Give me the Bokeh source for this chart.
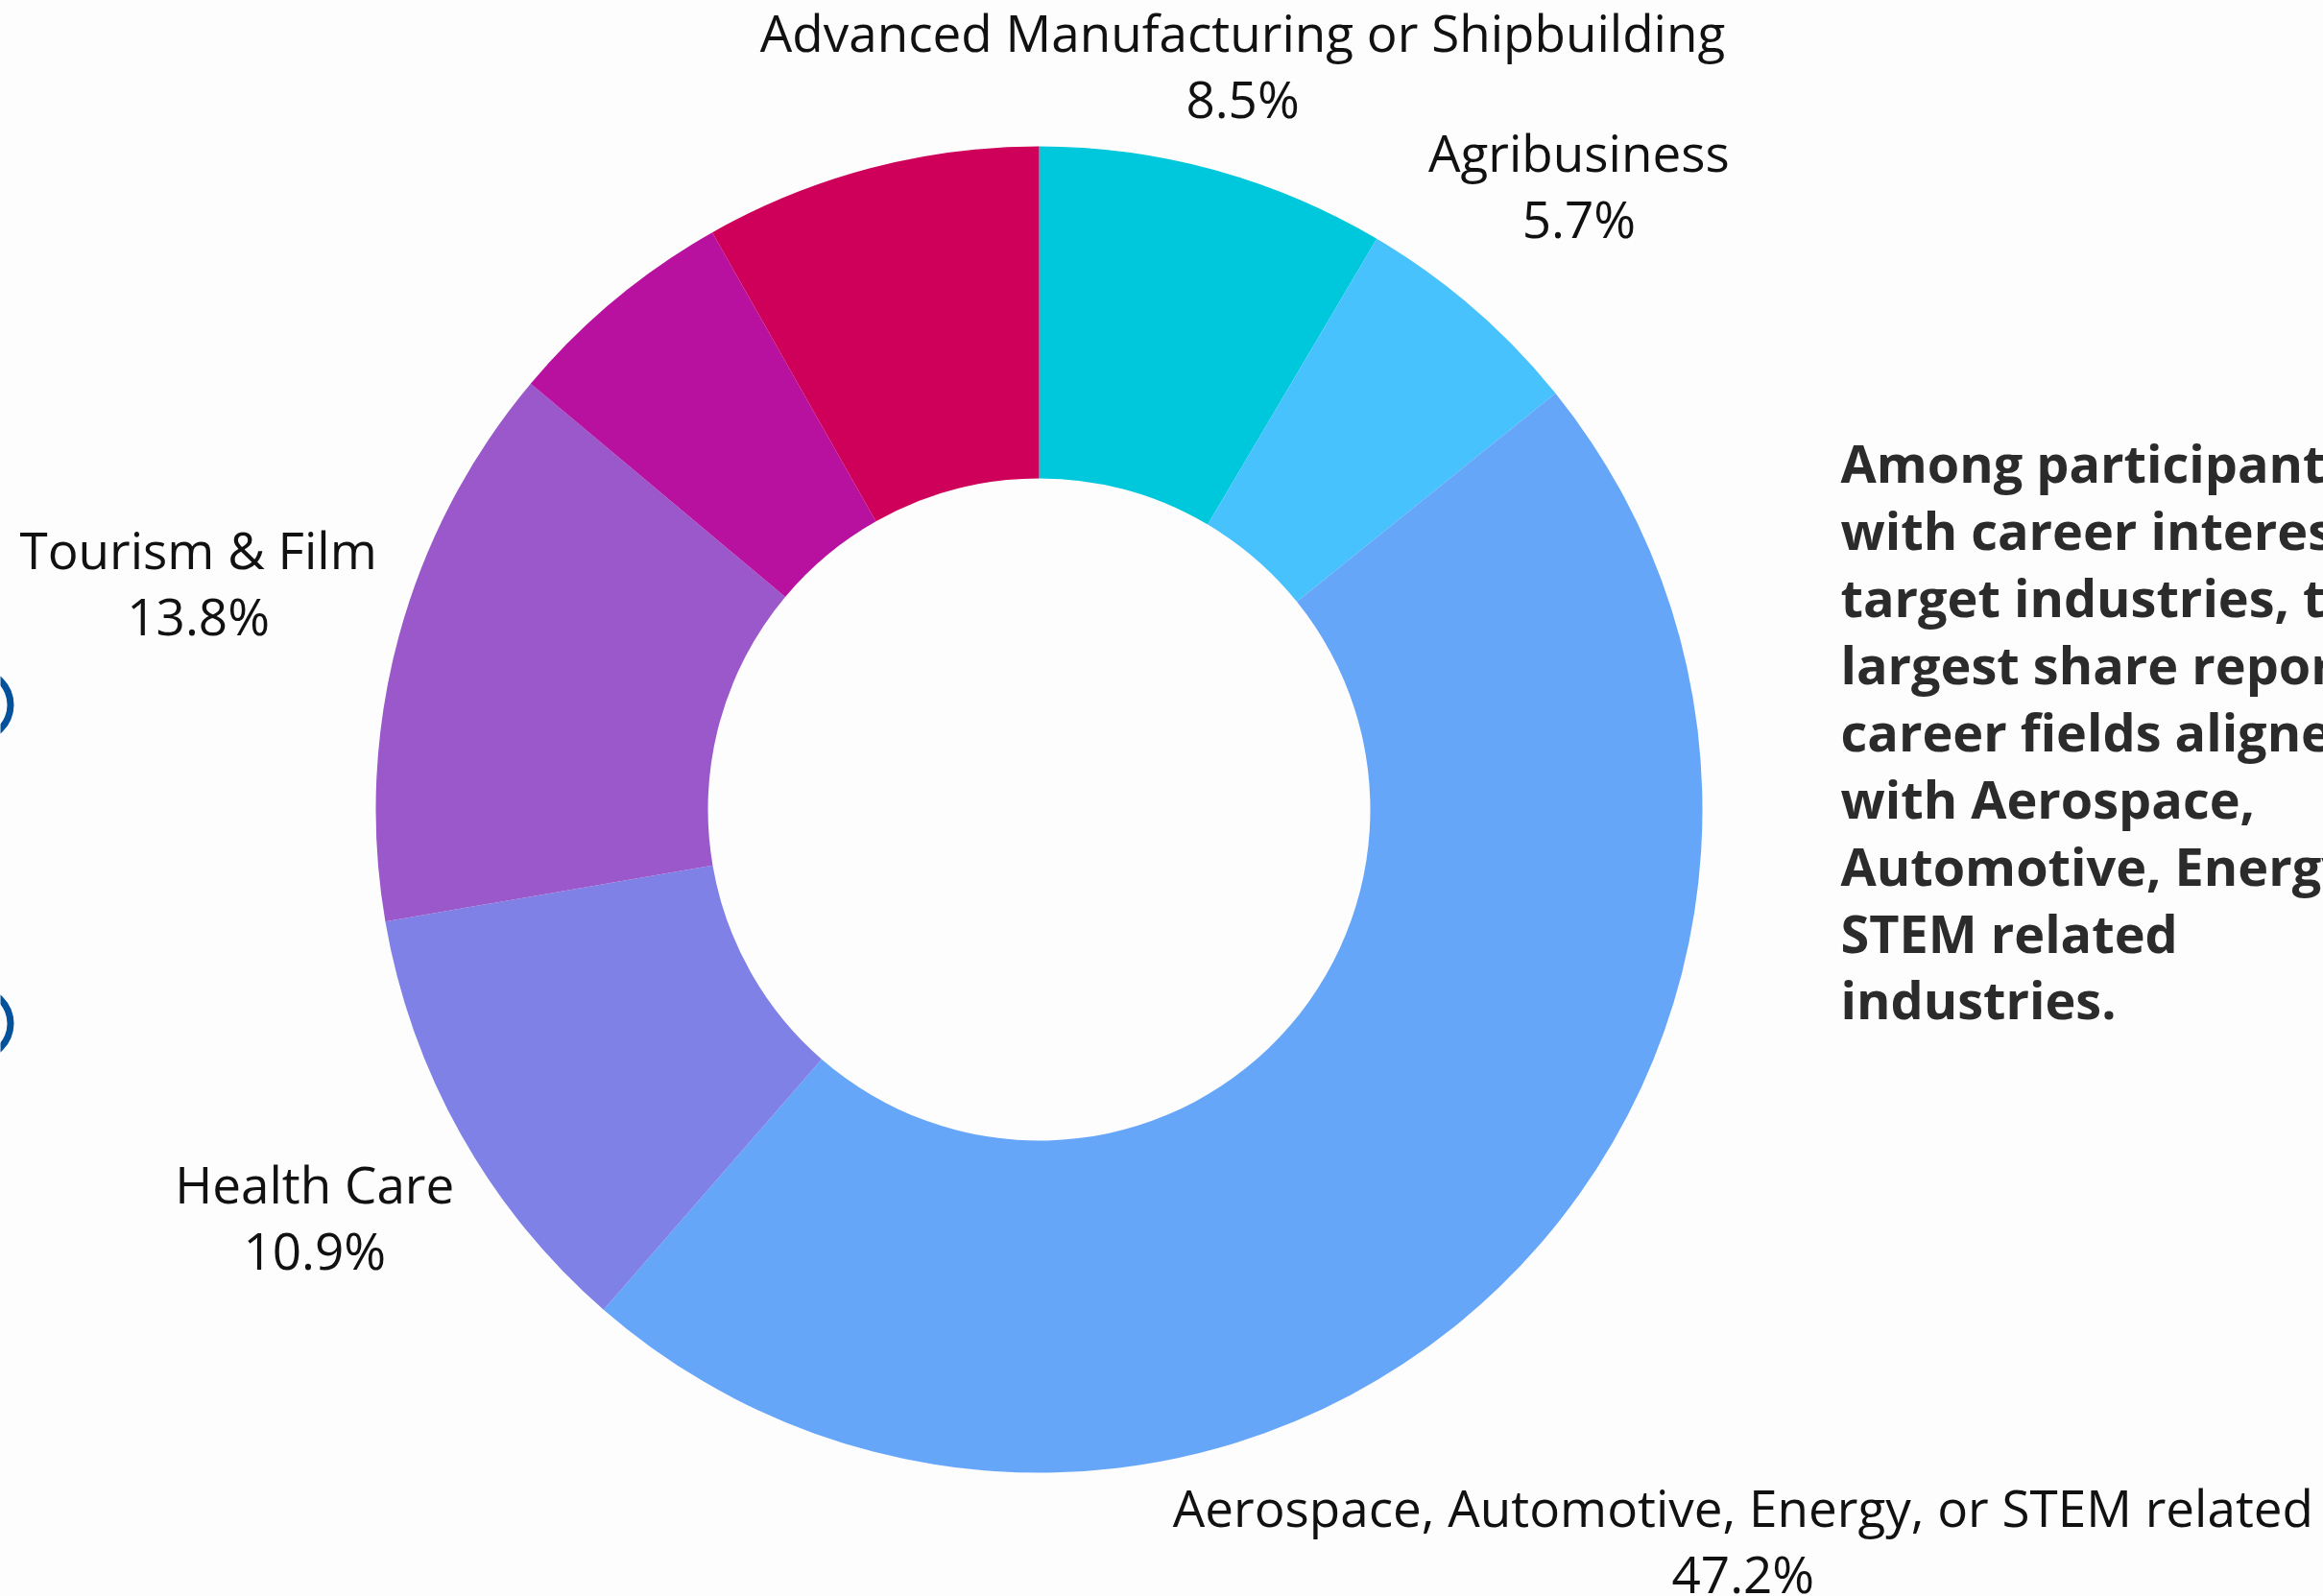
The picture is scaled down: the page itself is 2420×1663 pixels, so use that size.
import numpy as np
from bokeh.plotting import figure
from bokeh.models import Range1d, ColumnDataSource
from bokeh.core.properties import value
from bokeh.embed import file_html
from bokeh.resources import INLINE

# ---- data ----
categories = [
    "Advanced Manufacturing or Shipbuilding",
    "Agribusiness",
    "Aerospace, Automotive, Energy, or STEM related",
    "Health Care",
    "Tourism & Film",
    "",
    "",
]
shares = [8.5, 5.7, 47.2, 10.9, 13.8, 5.7, 8.2]
colors = ["#00C8DC", "#47C2FD", "#66A6F9", "#7F81E6", "#9A58CA", "#B8119F", "#CE005A"]
note_lines = [
    "Among participants",
    "with career interests in",
    "target industries, the",
    "largest share reported",
    "career fields aligned",
    "with Aerospace,",
    "Automotive, Energy, or",
    "STEM related",
    "industries.",
]

# ---- layout constants (pixels; data units == pixels, y up) ----
W, H = 2420, 1663
CX, CY = 1082, H - 843
R_OUT, R_IN = 691, 345
label_dist = [1.163, 1.244, 1.530, 1.253, 1.313, 1.25, 1.25]  # multiples of R_OUT
LINE_GAP = 69
CAP = 38
TXT_SHIFT = 19
FONT = "Open Sans"

p = figure(width=W, height=H, x_range=Range1d(0, W), y_range=Range1d(0, H),
           output_backend="svg", toolbar_location=None, min_border=0,
           x_axis_location=None, y_axis_location=None,
           background_fill_color="#FDFDFD", border_fill_color="#FDFDFD", outline_line_color=None)
p.grid.visible = False

vals = np.array(shares, dtype=float)
cum = np.concatenate([[0], np.cumsum(vals)])
tot = cum[-1]
start = np.pi / 2 - 2 * np.pi * cum[:-1] / tot
end = np.pi / 2 - 2 * np.pi * cum[1:] / tot
mid = (start + end) / 2

src = ColumnDataSource(dict(start=start, end=end, color=colors))
p.annular_wedge(x=CX, y=CY, inner_radius=R_IN, outer_radius=R_OUT, start_angle="start", end_angle="end",
                direction="clock", fill_color="color", line_color=None, source=src)

# labels
lx, ly_name, ly_pct, names, pcts = [], [], [], [], []
for i, name in enumerate(categories):
    if not name:
        continue
    d = label_dist[i] * R_OUT
    x = CX + d * np.cos(mid[i])
    y = CY + d * np.sin(mid[i]) + TXT_SHIFT
    lx.append(x)
    ly_name.append(y + (LINE_GAP - CAP) / 2)
    ly_pct.append(y - (LINE_GAP + CAP) / 2)
    names.append(name)
    pcts.append(f"{shares[i]:.1f}%")

p.text(x=lx, y=ly_name, text=names, text_align="center", text_baseline="alphabetic",
       text_font=value(FONT), text_font_size="53px", text_color="#111111")
p.text(x=lx, y=ly_pct, text=pcts, text_align="center", text_baseline="alphabetic",
       text_font=value(FONT), text_font_size="53px", text_color="#111111")

# right-hand note
note_x = [1917] * len(note_lines)
note_y = [H - (500.7 + i * 69.9) + TXT_SHIFT for i in range(len(note_lines))]
p.text(x=note_x, y=note_y, text=note_lines, text_align="left", text_baseline="alphabetic",
       text_font=value(FONT), text_font_style="bold", text_font_size="54px", text_color="#2B2B2B")

# decorative partial rings at the left edge
p.annulus(x=[-25, -25], y=[H - 734, H - 1066], inner_radius=32, outer_radius=39,
          fill_color="#05529C", line_color=None)

open("out.html", "w").write(file_html(p, INLINE))
